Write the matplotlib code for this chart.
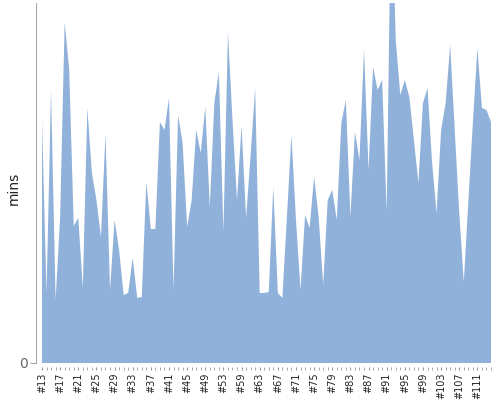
import matplotlib
matplotlib.use("Agg")
import matplotlib.pyplot as plt

# run ids along the x axis (a few numbers are missing around #55)
run_ids = list(range(13, 54)) + [55, 56, 58] + list(range(59, 115))
labels = [f"#{n}" for n in run_ids]

# minutes per run
mins = [
    60.75, 17.5, 68.25, 15.75, 36.5, 85.25, 73.25, 34.25, 36.25, 18.75,
    63.75, 47.5, 40.75, 31.5, 57.25, 18.25, 35.75, 28.25, 17.0, 17.5,
    26.25, 16.25, 16.5, 45.25, 33.5, 33.5, 60.25, 58.25, 66.25, 18.25,
    62.0, 55.0, 34.0, 40.75, 58.25, 52.5, 64.0, 39.0, 65.0, 72.75,
    32.75, 82.75, 60.75, 40.75, 59.25, 36.25, 52.0, 68.75, 17.5, 17.5,
    17.75, 44.0, 17.5, 16.25, 36.5, 57.0, 35.75, 18.25, 37.0, 33.75,
    46.5, 36.5, 19.5, 40.75, 43.25, 35.75, 60.0, 65.75, 36.5, 57.75,
    50.75, 78.5, 48.25, 74.0, 68.25, 70.75, 37.75, 120.0, 80.75, 67.0,
    70.75, 66.5, 55.75, 45.0, 65.0, 68.75, 50.25, 37.5, 58.25, 65.0,
    79.5, 58.25, 37.5, 20.25, 40.25, 60.0, 78.75, 63.75, 63.25, 60.25,
]

x = list(range(len(mins)))

fig = plt.figure(figsize=(5, 4), dpi=100)
ax = fig.add_axes([0.084, 0.0925, 0.898, 0.9])

ax.fill_between(x, mins, 0, color="#8fb1da", linewidth=0)

ax.set_xlim(0, len(mins) - 1)
ax.set_ylim(0, 90)

for side in ("top", "right", "bottom"):
    ax.spines[side].set_visible(False)
ax.spines["left"].set_position(("outward", 4))
ax.spines["left"].set_color("#aaaaaa")
ax.spines["bottom"].set_position(("outward", 3))

ax.set_yticks([0])
ax.set_yticklabels(["0"], color="#666666", fontsize=10)
ax.tick_params(axis="y", length=4, color="#aaaaaa", pad=2)

ax.set_xticks(x[::4])
ax.set_xticklabels(labels[::4], rotation=90, fontsize=7, color="#222222")
ax.set_xticks(x, minor=True)
ax.tick_params(axis="x", which="both", length=2, color="#999999", pad=2)

fig.text(0.028, 0.53, "mins", rotation=90, fontsize=10, color="#222222",
         ha="center", va="center")

fig.savefig("out.png", dpi=100)
